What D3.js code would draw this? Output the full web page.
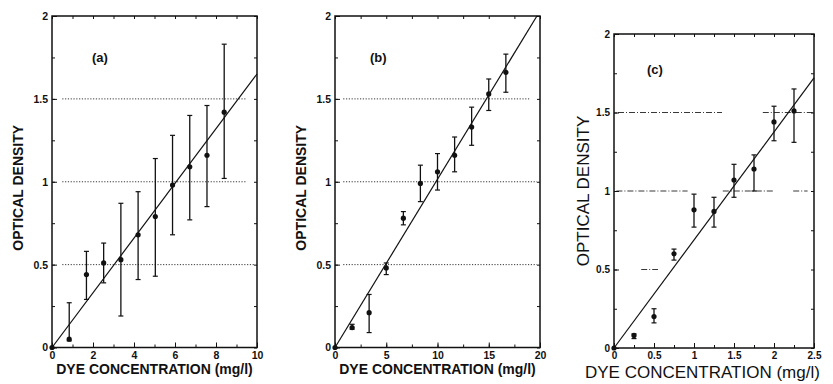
<!DOCTYPE html>
<html>
<head>
<meta charset="utf-8">
<script src="https://cdn.jsdelivr.net/npm/d3@7"></script>
<style>
  body { margin: 0; background: #fff; }
  svg { display: block; }
  text { font-family: "Liberation Sans", Arial, Helvetica, sans-serif; fill: #111; }
</style>
</head>
<body>
<svg id="fig" width="833" height="384"></svg>
<script>
// ---- data ----
// panel (a)
const concA = [0, 0.84, 1.68, 2.52, 3.36, 4.2, 5.04, 5.88, 6.72, 7.56, 8.4];
const odA   = [0, 0.05, 0.44, 0.51, 0.53, 0.68, 0.79, 0.98, 1.09, 1.16, 1.42];
const loA   = [null, 0.04, 0.29, 0.39, 0.19, 0.41, 0.43, 0.68, 0.77, 0.85, 1.02];
const hiA   = [null, 0.27, 0.58, 0.63, 0.87, 0.94, 1.14, 1.28, 1.40, 1.46, 1.83];
const fitA  = [[0, 0], [10, 1.65]];
const xTicksA = [0, 2, 4, 6, 8, 10];
const gridA = [[0.5, 0.5, 9.9], [1, 0.5, 9.5], [1.5, 0.5, 9.5]];

// panel (b)
const concB = [0, 1.67, 3.33, 5, 6.67, 8.33, 10, 11.67, 13.33, 15, 16.67];
const odB   = [0, 0.12, 0.21, 0.48, 0.78, 0.99, 1.06, 1.16, 1.33, 1.53, 1.66];
const loB   = [null, 0.11, 0.09, 0.44, 0.74, 0.88, 0.95, 1.06, 1.22, 1.43, 1.54];
const hiB   = [null, 0.14, 0.32, 0.51, 0.82, 1.10, 1.17, 1.27, 1.45, 1.62, 1.77];
const fitB  = [[0, 0], [19.7, 2]];
const xTicksB = [0, 5, 10, 15, 20];
const gridB = [[0.5, 0.8, 19.7], [1, 0.8, 19.7], [1.5, 0.8, 19]];

// panel (c)
const concC = [0, 0.25, 0.5, 0.75, 1, 1.25, 1.5, 1.75, 2, 2.25];
const odC   = [0, 0.08, 0.20, 0.60, 0.88, 0.87, 1.07, 1.14, 1.44, 1.51];
const loC   = [null, 0.06, 0.16, 0.56, 0.77, 0.77, 0.96, 1.00, 1.32, 1.31];
const hiC   = [null, 0.09, 0.25, 0.63, 0.98, 0.96, 1.17, 1.23, 1.54, 1.65];
const fitC  = [[0, 0], [2.5, 1.72]];
const xTicksC = [0, 0.5, 1, 1.5, 2, 2.5];
const gridC = [[1.5, 0.05, 1.35], [1.5, 1.86, 2.5], [1, 0.03, 0.92], [1, 1.36, 2.0], [1, 2.24, 2.42], [0.5, 0.34, 0.55]];

const yTicks = [0, 0.5, 1, 1.5, 2];

const svg = d3.select("#fig");

const panels = [
  {tag: "(a)", conc: concA, od: odA, lo: loA, hi: hiA, fit: fitA, xt: xTicksA, grid: gridA, xmax: 10,
   box: {l: 52, r: 257, t: 16, b: 347.5}, dash: "1.2,1.6", big: false, tagPos: [92, 62]},
  {tag: "(b)", conc: concB, od: odB, lo: loB, hi: hiB, fit: fitB, xt: xTicksB, grid: gridB, xmax: 20,
   box: {l: 335, r: 540, t: 16, b: 347.5}, dash: "1.2,1.6", big: false, tagPos: [370, 62]},
  {tag: "(c)", conc: concC, od: odC, lo: loC, hi: hiC, fit: fitC, xt: xTicksC, grid: gridC, xmax: 2.5,
   box: {l: 614, r: 814, t: 34, b: 348}, dash: "6,2,1,2", big: true, tagPos: [647, 74]}
];

panels.forEach(p => {
  const x = d3.scaleLinear().domain([0, p.xmax]).range([p.box.l, p.box.r]);
  const y = d3.scaleLinear().domain([0, 2]).range([p.box.b, p.box.t]);
  const g = svg.append("g");
  const tickFont = p.big ? "10px" : "10.5px";

  // gridlines
  g.selectAll("line.grid").data(p.grid).join("line")
    .attr("class", "grid")
    .attr("x1", d => x(d[1])).attr("x2", d => x(d[2]))
    .attr("y1", d => y(d[0])).attr("y2", d => y(d[0]))
    .attr("stroke", "#222").attr("stroke-width", 0.9)
    .attr("stroke-dasharray", p.dash);

  // left axis, major + minor ticks pointing in
  const minorY = d3.range(0, 2.001, 0.25);
  g.append("g").attr("transform", `translate(${p.box.l},0)`)
    .call(d3.axisLeft(y).tickValues(minorY).tickSize(-3).tickFormat(""))
    .call(a => a.select(".domain").remove());
  g.append("g").attr("transform", `translate(${p.box.l},0)`)
    .call(d3.axisLeft(y).tickValues(yTicks).tickSize(-5).tickPadding(4).tickFormat(d3.format("")))
    .call(a => a.select(".domain").remove())
    .call(a => a.selectAll("text").style("font-size", tickFont).style("font-weight", "bold"));
  // right edge small ticks
  g.append("g").attr("transform", `translate(${p.box.r},0)`)
    .call(d3.axisRight(y).tickValues(minorY).tickSize(-3).tickFormat(""))
    .call(a => a.select(".domain").remove());

  // bottom axis
  const step = p.xt[1] - p.xt[0];
  const minorX = d3.range(0, p.xmax + 1e-9, step / 2);
  g.append("g").attr("transform", `translate(0,${p.box.b})`)
    .call(d3.axisBottom(x).tickValues(minorX).tickSize(-3).tickFormat(""))
    .call(a => a.select(".domain").remove());
  g.append("g").attr("transform", `translate(0,${p.box.b})`)
    .call(d3.axisBottom(x).tickValues(p.xt).tickSize(-5).tickPadding(4).tickFormat(d3.format("")))
    .call(a => a.select(".domain").remove())
    .call(a => a.selectAll("text").style("font-size", tickFont).style("font-weight", "bold"));
  g.append("g").attr("transform", `translate(0,${p.box.t})`)
    .call(d3.axisTop(x).tickValues(minorX).tickSize(-3).tickFormat(""))
    .call(a => a.select(".domain").remove());

  g.selectAll(".tick line").attr("stroke", "#111");

  // frame
  g.append("rect")
    .attr("x", p.box.l).attr("y", p.box.t)
    .attr("width", p.box.r - p.box.l).attr("height", p.box.b - p.box.t)
    .attr("fill", "none").attr("stroke", "#111").attr("stroke-width", 1.5);

  // fitted line
  g.append("path")
    .datum(p.fit)
    .attr("d", d3.line().x(d => x(d[0])).y(d => y(d[1])))
    .attr("fill", "none").attr("stroke", "#111").attr("stroke-width", 1.2);

  const pts = p.conc.map((c, i) => ({c: c, v: p.od[i], lo: p.lo[i], hi: p.hi[i]}));
  const bars = pts.filter(d => d.lo !== null);

  // error bars
  g.selectAll("line.eb").data(bars).join("line")
    .attr("class", "eb")
    .attr("x1", d => x(d.c)).attr("x2", d => x(d.c))
    .attr("y1", d => y(d.lo)).attr("y2", d => y(d.hi))
    .attr("stroke", "#111").attr("stroke-width", 1.3);
  ["lo", "hi"].forEach(k => {
    g.selectAll("line.cap" + k).data(bars).join("line")
      .attr("class", "cap" + k)
      .attr("x1", d => x(d.c) - 2.5).attr("x2", d => x(d.c) + 2.5)
      .attr("y1", d => y(d[k])).attr("y2", d => y(d[k]))
      .attr("stroke", "#111").attr("stroke-width", 1.2);
  });

  // points
  g.selectAll("circle.pt").data(pts).join("circle")
    .attr("class", "pt")
    .attr("cx", d => x(d.c)).attr("cy", d => y(d.v))
    .attr("r", 2.6).attr("fill", "#111");

  // panel tag
  g.append("text").attr("x", p.tagPos[0]).attr("y", p.tagPos[1])
    .style("font-size", "13px").style("font-weight", "bold").text(p.tag);

  // axis titles
  const midY = (p.box.t + p.box.b) / 2;
  if (p.big) {
    g.append("text")
      .attr("transform", `translate(${p.box.l - 25},${midY}) rotate(-90)`)
      .attr("text-anchor", "middle")
      .style("font-size", "17px").text("OPTICAL DENSITY");
    g.append("text")
      .attr("x", 585).attr("y", 378)
      .style("font-size", "17px").text("DYE CONCENTRATION (mg/l)");
  } else {
    g.append("text")
      .attr("transform", `translate(${p.box.l - 29},${midY + 6}) rotate(-90)`)
      .attr("text-anchor", "middle")
      .style("font-size", "14px").style("font-weight", "bold").text("OPTICAL DENSITY");
    g.append("text")
      .attr("x", (p.box.l + p.box.r) / 2).attr("y", 374)
      .attr("text-anchor", "middle")
      .style("font-size", "14px").style("font-weight", "bold").text("DYE CONCENTRATION (mg/l)");
  }
});
</script>
</body>
</html>
